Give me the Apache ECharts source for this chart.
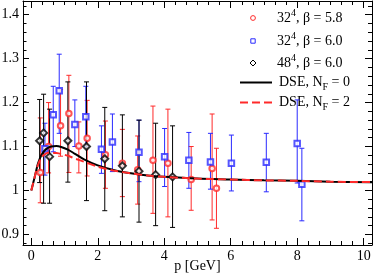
<!DOCTYPE html>
<html><head><meta charset="utf-8">
<script src="https://cdn.jsdelivr.net/npm/echarts@6/dist/echarts.min.js"></script>
<style>html,body{margin:0;padding:0;background:#fff}#c{width:374px;height:277px}</style>
</head><body><div id="c"></div>
<script>
// 32^4, beta = 5.8
const pRed  = [0.27, 0.52, 0.88, 1.13, 1.43, 1.68, 2.23, 2.74, 3.20, 3.66, 4.11, 4.81, 5.44, 5.57];
const yRed  = [1.041, 1.100, 1.147, 1.175, 1.101, 1.119, 1.081, 1.062, 1.047, 1.069, 1.062, 1.025, 1.050, 1.005];
const loRed = [0.972, 1.040, 1.078, 1.041, 1.040, 1.033, 1.005, 0.986, 0.969, 0.948, 0.940, 0.955, 0.933, 0.914];
const hiRed = [1.165, 1.200, 1.230, 1.262, 1.156, 1.205, 1.158, 1.139, 1.124, 1.192, 1.185, 1.100, 1.174, 1.096];
// 32^4, beta = 6.0
const pBlue  = [0.41, 0.66, 0.84, 1.31, 1.64, 2.11, 2.44, 3.24, 4.01, 4.74, 5.39, 6.02, 7.07, 8.00, 8.14];
const yBlue  = [1.095, 1.172, 1.227, 1.150, 1.168, 1.094, 1.110, 1.087, 1.077, 1.069, 1.065, 1.062, 1.064, 1.107, 1.014];
const loBlue = [1.035, 1.088, 1.130, 1.100, 1.100, 1.039, 1.043, 1.020, 1.009, 1.005, 1.003, 0.999, 0.997, 1.017, 0.931];
const hiBlue = [1.153, 1.237, 1.310, 1.206, 1.237, 1.147, 1.174, 1.160, 1.141, 1.132, 1.130, 1.126, 1.130, 1.206, 1.096];
// 48^4, beta = 6.0
const pBlack  = [0.25, 0.37, 0.55, 1.10, 1.66, 2.21, 2.74, 3.24, 3.74, 4.25];
const yBlack  = [1.113, 1.131, 1.077, 1.113, 1.100, 1.072, 1.056, 1.044, 1.036, 1.031];
const loBlack = [1.018, 0.971, 0.971, 1.019, 0.977, 0.954, 0.940, 0.928, 0.920, 0.916];
const hiBlack = [1.207, 1.219, 1.185, 1.247, 1.247, 1.189, 1.172, 1.160, 1.153, 1.147];
// DSE curves
const pDse = [0, 0.05, 0.1, 0.15, 0.2, 0.3, 0.4, 0.5, 0.6, 0.75, 0.9, 1.1, 1.3, 1.6, 2, 2.5, 3, 3.5, 4, 5, 6, 7, 8, 9, 10.25];
const dseNf0 = [1.0, 1.015, 1.03, 1.046, 1.061, 1.080, 1.091, 1.097, 1.100, 1.101, 1.099, 1.093, 1.084, 1.070, 1.057, 1.046, 1.039, 1.034, 1.031, 1.027, 1.025, 1.023, 1.022, 1.020, 1.019];
const dseNf2 = [1.0, 1.015, 1.03, 1.045, 1.058, 1.075, 1.082, 1.086, 1.086, 1.085, 1.083, 1.079, 1.073, 1.065, 1.054, 1.045, 1.039, 1.034, 1.031, 1.027, 1.025, 1.023, 1.022, 1.020, 1.019];
// ticks
const xMajor = [0, 2, 4, 6, 8, 10];
const yMajor = [0.9, 1.0, 1.1, 1.2, 1.3, 1.4];
const legendLabels = ['32|4|, β = 5.8', '32|4|, β = 6.0', '48|4|, β = 6.0', 'DSE, N|F| = 0', 'DSE, N|F| = 2'];

const X_MIN = -0.25, X_MAX = 10.25, Y_MIN = 0.876, Y_MAX = 1.431;
const FONT = "'Liberation Serif','Times New Roman',serif";
const RED = '#ff2a2a', BLUE = '#2a2aff', BLK = '#000';

const xMinor = [], yMinor = [];
for (let v = -6; v <= 31; v++) { if (v % 6 !== 0) xMinor.push(v / 3); }
for (let v = 43; v <= 72; v++) { if (v % 5 !== 0) yMinor.push(v / 50); }

function zip3(a, b, c) { return a.map((v, i) => [v, b[i], c[i]]); }
function zip2(a, b) { return a.map((v, i) => [v, b[i]]); }

function errBar(color) {
  return function (params, api) {
    const x = api.value(0), lo = api.value(1), hi = api.value(2);
    const a = api.coord([x, lo]), b = api.coord([x, hi]);
    const w = 2.5, st = { stroke: color, lineWidth: 1 };
    return { type: 'group', children: [
      { type: 'line', shape: { x1: a[0], y1: a[1], x2: b[0], y2: b[1] }, style: st },
      { type: 'line', shape: { x1: a[0] - w, y1: a[1], x2: a[0] + w, y2: a[1] }, style: st },
      { type: 'line', shape: { x1: b[0] - w, y1: b[1], x2: b[0] + w, y2: b[1] }, style: st }
    ]};
  };
}

function xAx(pos, vals, len, main) {
  return {
    type: 'value', position: pos, min: X_MIN, max: X_MAX,
    axisLine: { show: !!main, onZero: false, lineStyle: { color: '#000', width: 1 } },
    axisTick: { show: true, inside: true, length: len, customValues: vals, lineStyle: { color: '#000' } },
    axisLabel: (main === 'label') ? { show: true, customValues: xMajor, color: '#000', fontFamily: FONT, fontSize: 14, margin: 4, formatter: v => String(v) } : { show: false },
    splitLine: { show: false },
    name: main === 'label' ? 'p [GeV]' : '', nameLocation: 'middle', nameGap: 14, nameMoveOverlap: false,
    nameTextStyle: { color: '#000', fontFamily: FONT, fontSize: 14, verticalAlign: 'top' }
  };
}
function yAx(pos, vals, len, main) {
  return {
    type: 'value', position: pos, min: Y_MIN, max: Y_MAX,
    axisLine: { show: !!main, onZero: false, lineStyle: { color: '#000', width: 1 } },
    axisTick: { show: true, inside: true, length: len, customValues: vals, lineStyle: { color: '#000' } },
    axisLabel: (main === 'label') ? { show: true, customValues: yMajor, color: '#000', fontFamily: FONT, fontSize: 14, margin: 4,
      formatter: v => (Math.abs(v - 1) < 1e-9 ? '1' : v.toFixed(1)) } : { show: false },
    splitLine: { show: false }
  };
}

// legend graphics
const LX = 253, LT = 277, rows = [18, 41, 63, 82.5, 102.5];
function richText(s) {
  const parts = s.split('|');
  if (parts.length === 1) return '{a|' + s + '}';
  const isSup = legendLabels.indexOf(s) < 3;
  return '{a|' + parts[0] + '}{' + (isSup ? 's' : 'u') + '|' + parts[1] + '}{a|' + parts[2] + '}';
}
const rich = {
  a: { fontFamily: FONT, fontSize: 14, color: '#000', lineHeight: 20, verticalAlign: 'middle' },
  s: { fontFamily: FONT, fontSize: 10, color: '#000', lineHeight: 9, verticalAlign: 'top' },
  u: { fontFamily: FONT, fontSize: 10, color: '#000', lineHeight: 9, verticalAlign: 'bottom' }
};
const gfx = [];
gfx.push({ type: 'circle', shape: { cx: LX, cy: rows[0], r: 2.4 }, style: { fill: 'none', stroke: RED, lineWidth: 1 } });
gfx.push({ type: 'rect', shape: { x: LX - 2.2, y: rows[1] - 2.2, width: 4.4, height: 4.4 }, style: { fill: 'none', stroke: BLUE, lineWidth: 1 } });
gfx.push({ type: 'polygon', shape: { points: [[LX, rows[2] - 3], [LX + 3, rows[2]], [LX, rows[2] + 3], [LX - 3, rows[2]]] }, style: { fill: 'none', stroke: BLK, lineWidth: 1 } });
gfx.push({ type: 'line', shape: { x1: 240, y1: rows[3], x2: 272, y2: rows[3] }, style: { stroke: BLK, lineWidth: 2 } });
gfx.push({ type: 'line', shape: { x1: 240, y1: rows[4], x2: 272, y2: rows[4] }, style: { stroke: RED, lineWidth: 2, lineDash: [8, 4] } });
legendLabels.forEach((s, i) => {
  gfx.push({ type: 'text', x: i < 3 ? LT : 279, y: rows[i], style: { text: richText(s), rich: rich, verticalAlign: 'middle', align: 'left' } });
});

const chart = echarts.init(document.getElementById('c'), null, { renderer: 'canvas' });
chart.setOption({
  animation: false,
  backgroundColor: '#fff',
  grid: { left: 23, right: 2, top: 1, bottom: 32, containLabel: false, outerBoundsMode: 'none' },
  xAxis: [
    xAx('bottom', xMajor, 7, 'label'),
    xAx('bottom', xMinor, 4, null),
    xAx('top', xMajor, 7, 'line'),
    xAx('top', xMinor, 4, null)
  ],
  yAxis: [
    yAx('left', yMajor, 6, 'label'),
    yAx('left', yMinor, 3.5, null),
    yAx('right', yMajor, 7, 'line'),
    yAx('right', yMinor, 4, null)
  ],
  graphic: gfx,
  series: [
    { type: 'custom', renderItem: errBar(RED), data: zip3(pRed, loRed, hiRed), encode: { x: 0, y: [1, 2] }, clip: true, z: 2 },
    { type: 'custom', renderItem: errBar(BLUE), data: zip3(pBlue, loBlue, hiBlue), encode: { x: 0, y: [1, 2] }, clip: true, z: 2 },
    { type: 'custom', renderItem: errBar(BLK), data: zip3(pBlack, loBlack, hiBlack), encode: { x: 0, y: [1, 2] }, clip: true, z: 2 },
    { type: 'scatter', data: zip2(pRed, yRed), symbol: 'emptyCircle', symbolSize: 5.5, itemStyle: { color: RED, borderColor: RED, borderWidth: 1 }, z: 4 },
    { type: 'scatter', data: zip2(pBlue, yBlue), symbol: 'emptyRect', symbolSize: 5.5, itemStyle: { color: BLUE, borderColor: BLUE, borderWidth: 1 }, z: 4 },
    { type: 'scatter', data: zip2(pBlack, yBlack), symbol: 'emptyDiamond', symbolSize: 7, itemStyle: { color: BLK, borderColor: BLK, borderWidth: 1 }, z: 4 },
    { type: 'line', data: zip2(pDse, dseNf0), smooth: 0.3, showSymbol: false, lineStyle: { color: BLK, width: 2 }, z: 5 },
    { type: 'line', data: zip2(pDse, dseNf2), smooth: 0.3, showSymbol: false, lineStyle: { color: RED, width: 2, type: [8, 4] }, z: 6 }
  ]
});
</script>
</body></html>
